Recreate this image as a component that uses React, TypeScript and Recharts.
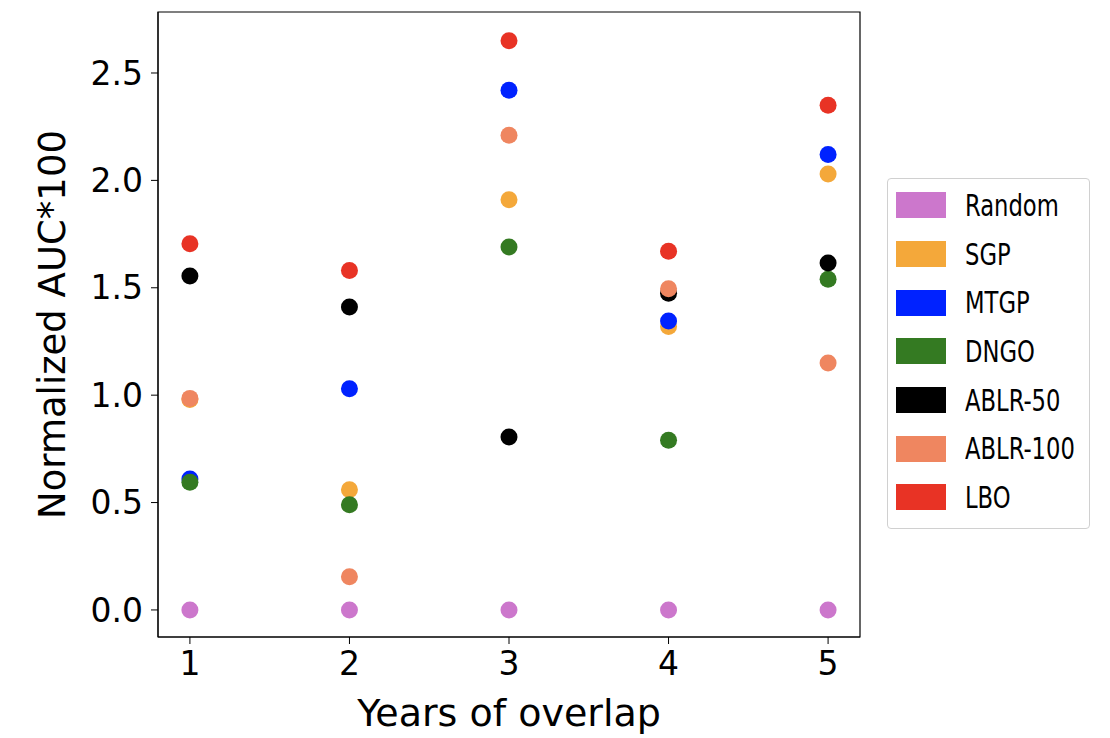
import React from 'react';
import { ScatterChart, Scatter, XAxis, YAxis, ReferenceArea } from 'recharts';

const years = [1, 2, 3, 4, 5];
const random = [0, 0, 0, 0, 0];
const sgp = [0.98, 0.56, 1.91, 1.32, 2.03];
const mtgp = [0.61, 1.03, 2.42, 1.345, 2.12];
const dngo = [0.595, 0.49, 1.69, 0.79, 1.54];
const ablr50 = [1.555, 1.41, 0.805, 1.475, 1.615];
const ablr100 = [0.985, 0.155, 2.21, 1.495, 1.15];
const lbo = [1.705, 1.58, 2.65, 1.67, 2.35];
const yTicks = [0, 0.5, 1, 1.5, 2, 2.5];

const series = [
  { name: 'Random', values: random, color: '#cc77cc' },
  { name: 'SGP', values: sgp, color: '#f4a83a' },
  { name: 'MTGP', values: mtgp, color: '#0022ff' },
  { name: 'DNGO', values: dngo, color: '#347a22' },
  { name: 'ABLR-50', values: ablr50, color: '#000000' },
  { name: 'ABLR-100', values: ablr100, color: '#ef8660' },
  { name: 'LBO', values: lbo, color: '#e83325' },
];

const toPoints = (vals: number[]) => years.map((x, i) => ({ x, y: vals[i] }));

const font = 'DejaVu Sans, sans-serif';

function LegendBox() {
  return (
    <div style={{ position: 'absolute', left: 887, top: 178, border: '1px solid #d0d0d0', borderRadius: 4, background: '#fff', padding: '2px 10px 6px 8px', width: 183 }}>
      {series.map(s => (
        <div key={s.name} style={{ display: 'flex', alignItems: 'center', height: 48.7 }}>
          <div style={{ width: 50, height: 26, background: s.color, marginRight: 19, flexShrink: 0 }} />
          <span style={{ fontFamily: 'DejaVu Sans Condensed, DejaVu Sans, sans-serif', fontSize: 30, color: '#000', transform: 'scaleX(0.84)', transformOrigin: 'left center', whiteSpace: 'nowrap' }}>{s.name}</span>
        </div>
      ))}
    </div>
  );
}

export default function App() {
  return (
    <div style={{ position: 'absolute', left: 0, top: 0, width: 1110, height: 738, background: '#fff' }}>
      <ScatterChart width={1110} height={738} margin={{ top: 12, right: 250, bottom: 0, left: 0 }}>
        <XAxis
          type="number" dataKey="x" domain={[0.8, 5.2]} ticks={years} allowDataOverflow
          height={101} stroke="#000" tickLine={{ stroke: '#000' }} tickSize={7} tickMargin={8}
          tick={{ fill: '#000', fontSize: 33, fontFamily: font }}
          label={{ value: 'Years of overlap', position: 'insideBottom', offset: 12, fill: '#000', fontSize: 38, fontFamily: font }}
        />
        <YAxis
          type="number" dataKey="y" domain={[-0.126, 2.784]} ticks={yTicks} allowDataOverflow
          width={158} stroke="#000" tickSize={7} tickMargin={8}
          tick={{ fill: '#000', fontSize: 33, fontFamily: font }}
          tickFormatter={(v: number) => v.toFixed(1)}
          label={{ value: 'Normalized AUC*100', angle: -90, position: 'insideLeft', offset: 52, style: { textAnchor: 'middle' }, fill: '#000', fontSize: 37, fontFamily: font }}
        />
        <ReferenceArea x1={0.8} x2={5.2} y1={-0.126} y2={2.784} fill="none" stroke="#000" strokeWidth={1.2} />
        {series.map(s => (
          <Scatter
            key={s.name} name={s.name} data={toPoints(s.values)} fill={s.color} isAnimationActive={false}
            shape={(p: any) => <circle cx={p.cx} cy={p.cy} r={8.5} fill={s.color} />}
          />
        ))}
      </ScatterChart>
      <LegendBox />
    </div>
  );
}
